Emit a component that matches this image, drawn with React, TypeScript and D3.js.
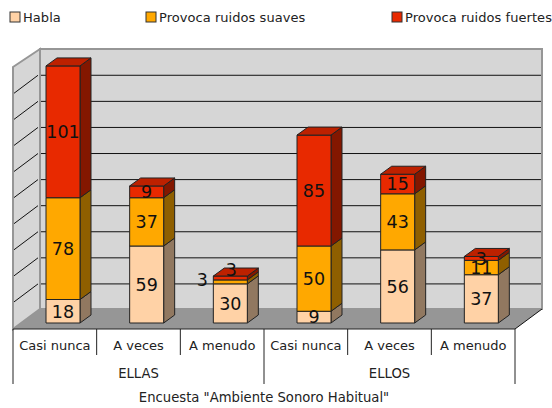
import React from 'react';
import * as d3 from 'd3';

const groups = ['ELLAS', 'ELLOS'];
const categories = ['Casi nunca', 'A veces', 'A menudo', 'Casi nunca', 'A veces', 'A menudo'];
const seriesNames = ['Habla', 'Provoca ruidos suaves', 'Provoca ruidos fuertes'];
const habla = [18, 59, 30, 9, 56, 37];
const suaves = [78, 37, 3, 50, 43, 11];
const fuertes = [101, 9, 3, 85, 15, 3];
const gridTicks = d3.range(0, 201, 20);

const fronts = ['#ffd2a6', '#ffa800', '#e82900'];
const sides = ['#917860', '#8f5f00', '#831700'];
const tops = ['#e6bd95', '#e69700', '#bd2100'];

const font = '"DejaVu Sans", Verdana, sans-serif';
const width = 552;
const height = 408;
// front plane of the 3d box
const left = 13;
const right = 515;
const floorY = 329;
const depthX = 27;
const depthY = 20;
// bars sit part way into the box
const barBase = 323;
const barW = 34;
const barOffset = 33;
const barDepthX = 11;
const barDepthY = 8;

const x = d3.scaleBand<number>().domain(d3.range(6)).range([left, right]);
const y = d3.scaleLinear().domain([0, 200]).range([barBase, barBase - 261]);
const gridY = d3.scaleLinear().domain([0, 200]).range([310, 49.2]);

const poly = (pts: number[][]) => d3.line()(pts as [number, number][]) + 'Z';

// labels the original chart had dragged away from their segments
const labelNudge: Record<string, number[]> = { '2-1': [-28, -2], '2-2': [1, -8] };

export default function App() {
  const series = [habla, suaves, fuertes];
  const stacked = d3.stack<number, number>()
    .keys([0, 1, 2])
    .value((i, k) => series[k][i])(d3.range(6));

  return (
    <svg width={width} height={height} style={{ position: 'absolute', left: 0, top: 0 }} fontFamily={font}>
      <rect width={width} height={height} fill="#fff" />

      {/* legend */}
      {seriesNames.map((s, i) => {
        const lx = [10, 146, 392][i];
        return (
          <g key={s}>
            <rect x={lx} y={12} width={10} height={10} fill={fronts[i]} stroke="#333" strokeWidth={1} />
            <text x={lx + 13} y={22} fontSize={13} fill="#222" letterSpacing={0.05}>{s}</text>
          </g>
        );
      })}

      {/* walls and floor */}
      <path
        d={poly([[left, 67], [left + depthX, 49], [left + depthX, floorY - depthY], [left, floorY]])}
        fill="#d6d6d6" stroke="#969696" strokeWidth={2}
      />
      <rect
        x={left + depthX} y={49} width={right - left} height={floorY - depthY - 49}
        fill="#d6d6d6" stroke="#969696" strokeWidth={2}
      />
      <path
        d={poly([[left, floorY], [left + depthX, floorY - depthY], [right + depthX, floorY - depthY], [right, floorY]])}
        fill="#969696"
      />

      {/* grid */}
      {gridTicks.slice(1, -1).map(t => (
        <g key={t} stroke="#111" strokeWidth={1} fill="none">
          <line x1={left + depthX + 1} x2={right + depthX - 1} y1={gridY(t)} y2={gridY(t)} />
          <line x1={left + depthX - 2} x2={left + 1} y1={gridY(t)} y2={gridY(t) + depthY - 2} />
        </g>
      ))}
      <line x1={right} x2={right + depthX} y1={floorY} y2={floorY - depthY} stroke="#111" />

      {/* bars */}
      {d3.range(6).map(i => {
        const bx = (x(i) as number) + barOffset;
        return (
          <g key={i} stroke="#222" strokeWidth={1} strokeLinejoin="round">
            {stacked.map((layer, k) => {
              const y0 = y(layer[i][0]);
              const y1 = y(layer[i][1]);
              return (
                <g key={k}>
                  <path fill={sides[k]} d={poly([[bx + barW, y0], [bx + barW + barDepthX, y0 - barDepthY], [bx + barW + barDepthX, y1 - barDepthY], [bx + barW, y1]])} />
                  <rect x={bx} y={y1} width={barW} height={y0 - y1} fill={fronts[k]} />
                  {k === 2 && (
                    <path fill={tops[k]} d={poly([[bx, y1], [bx + barDepthX, y1 - barDepthY], [bx + barW + barDepthX, y1 - barDepthY], [bx + barW, y1]])} />
                  )}
                </g>
              );
            })}
          </g>
        );
      })}

      {/* value labels */}
      {d3.range(6).map(i => stacked.map((layer, k) => {
        const bx = (x(i) as number) + barOffset;
        const [nx, ny] = labelNudge[`${i}-${k}`] || [0, 0];
        return (
          <text
            key={`${i}-${k}`}
            x={bx + barW / 2 + nx}
            y={(y(layer[i][0]) + y(layer[i][1])) / 2 + ny}
            dy="0.36em"
            textAnchor="middle"
            fontSize={17.5}
            fill="#111"
          >
            {series[k][i]}
          </text>
        );
      }))}

      {/* category axis */}
      <g stroke="#222" strokeWidth={1}>
        <line x1={left} x2={right} y1={floorY} y2={floorY} />
        {d3.range(7).map(i => {
          const tx = left + (i * (right - left)) / 6;
          return <line key={i} x1={tx} x2={tx} y1={floorY} y2={i % 3 === 0 ? 384 : 355} />;
        })}
      </g>
      {categories.map((c, i) => (
        <text key={i} x={(x(i) as number) + x.bandwidth() / 2} y={350} textAnchor="middle" fontSize={13} fill="#222">{c}</text>
      ))}
      {groups.map((g, i) => (
        <text key={g} x={left + ((right - left) / 2) * (i + 0.5)} y={378} textAnchor="middle" fontSize={13.2} fill="#222">{g}</text>
      ))}
      <text x={264} y={402} textAnchor="middle" fontSize={13.2} fill="#222">Encuesta "Ambiente Sonoro Habitual"</text>
    </svg>
  );
}
